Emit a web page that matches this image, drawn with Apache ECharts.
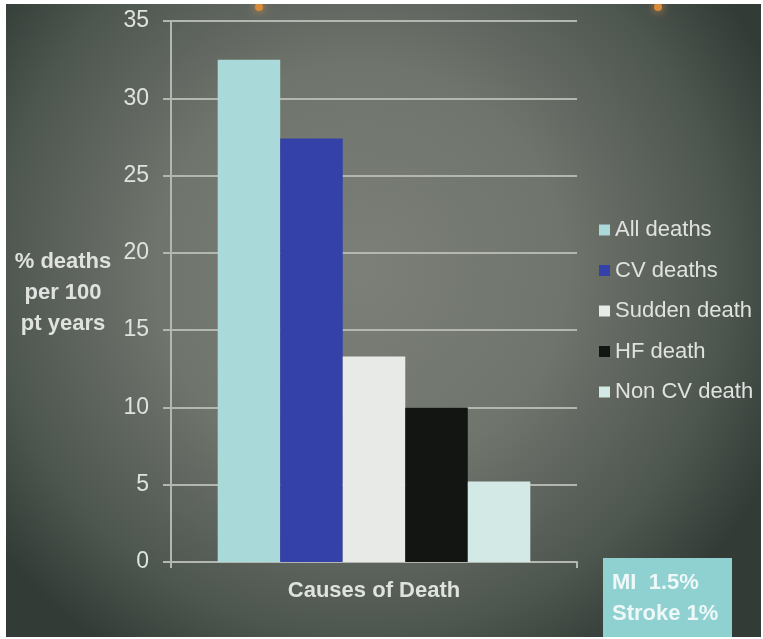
<!DOCTYPE html>
<html>
<head>
<meta charset="utf-8">
<script src="https://cdn.jsdelivr.net/npm/echarts@6/dist/echarts.min.js"></script>
<style>
  html, body { margin: 0; padding: 0; background: #ffffff; }
  #chart { width: 763px; height: 639px; }
</style>
</head>
<body>
<div id="chart"></div>
<script>
// Death rates by cause, % deaths per 100 patient-years
const categories = ['Causes of Death'];
const seriesNames = ['All deaths', 'CV deaths', 'Sudden death', 'HF death', 'Non CV death'];
const seriesValues = [32.5, 27.4, 13.3, 10.0, 5.2];
const yTicks = { min: 0, max: 35, interval: 5 };
const noteLines = ['MI  1.5%', 'Stroke 1%'];

const palette = ['#a9d9d8', '#3441a8', '#e8eae8', '#121512', '#d3e9e5'];
const textColor = '#dfe2de';
const lineColor = '#b3b7af';
const font = "'Liberation Sans', Arial, sans-serif";

const chart = echarts.init(document.getElementById('chart'), null, { renderer: 'canvas' });

const series = seriesNames.map((name, i) => ({
  name: name,
  type: 'bar',
  data: [seriesValues[i]],
  barGap: '0%',
  barCategoryGap: '23%',
  itemStyle: { color: palette[i] },
  emphasis: { disabled: true }
}));

chart.setOption({
  animation: false,
  backgroundColor: '#ffffff',
  textStyle: { fontFamily: font },
  grid: { left: 171, right: 186, top: 21, bottom: 77 },
  legend: {
    orient: 'vertical',
    left: 599,
    top: 219,
    padding: 0,
    itemWidth: 11,
    itemHeight: 11,
    itemGap: 18.5,
    icon: 'rect',
    data: seriesNames,
    textStyle: { color: textColor, fontSize: 22, fontFamily: font },
    selectedMode: false
  },
  xAxis: {
    type: 'category',
    data: categories,
    axisLine: { show: true, lineStyle: { color: lineColor, width: 2 } },
    axisTick: { show: true, length: 6, lineStyle: { color: lineColor, width: 2 } },
    axisLabel: { color: textColor, fontSize: 22, fontWeight: 'bold', margin: 18, fontFamily: font }
  },
  yAxis: {
    type: 'value',
    min: yTicks.min,
    max: yTicks.max,
    interval: yTicks.interval,
    axisLine: { show: true, lineStyle: { color: lineColor, width: 2 } },
    axisTick: { show: true, length: 8, lineStyle: { color: lineColor, width: 2 } },
    axisLabel: { color: textColor, fontSize: 23, margin: 22, fontFamily: font },
    splitLine: { show: true, lineStyle: { color: lineColor, width: 2 } }
  },
  graphic: [
    {
      type: 'rect',
      z: -100,
      silent: true,
      shape: { x: 6, y: 4, width: 755, height: 633 },
      style: {
        fill: new echarts.graphic.RadialGradient(0.47, 0.42, 0.72, [
          { offset: 0, color: '#7b7f77' },
          { offset: 0.45, color: '#6f746c' },
          { offset: 0.8, color: '#4e5650' },
          { offset: 1, color: '#323b35' }
        ])
      }
    },
    {
      type: 'circle',
      z: -50,
      silent: true,
      shape: { cx: 259, cy: 7, r: 4 },
      style: { fill: '#d98a3a', shadowBlur: 8, shadowColor: '#e09040' }
    },
    {
      type: 'circle',
      z: -50,
      silent: true,
      shape: { cx: 658, cy: 7, r: 4 },
      style: { fill: '#d98a3a', shadowBlur: 8, shadowColor: '#e09040' }
    },
    {
      type: 'rect',
      z: -49,
      silent: true,
      shape: { x: 0, y: 0, width: 763, height: 4 },
      style: { fill: '#ffffff' }
    },
    {
      type: 'text',
      silent: true,
      x: 63,
      y: 246,
      style: {
        text: '% deaths\nper 100\npt years',
        align: 'center',
        verticalAlign: 'top',
        fill: textColor,
        font: 'bold 22px ' + font,
        lineHeight: 31
      }
    },
    {
      type: 'rect',
      silent: true,
      shape: { x: 603, y: 558, width: 129, height: 79 },
      style: { fill: '#8fd0d0' }
    },
    {
      type: 'text',
      silent: true,
      x: 612,
      y: 567,
      style: {
        text: noteLines.join('\n'),
        fill: '#eef8f8',
        font: 'bold 22px ' + font,
        lineHeight: 31
      }
    }
  ],
  series: series
});
</script>
</body>
</html>
